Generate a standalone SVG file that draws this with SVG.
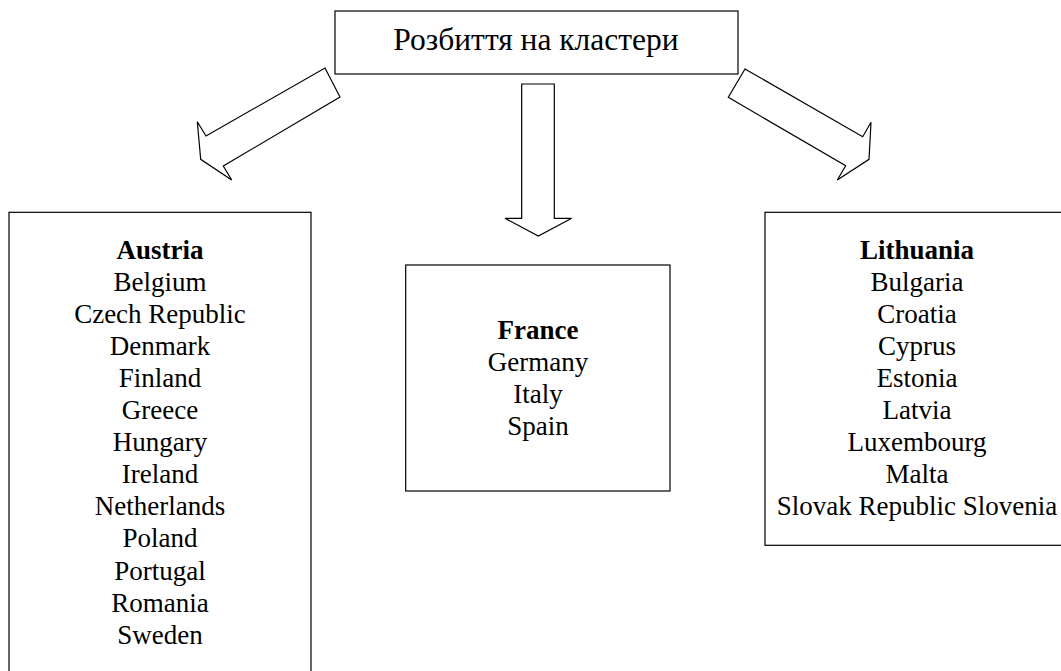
<svg xmlns="http://www.w3.org/2000/svg" width="1061" height="671" viewBox="0 0 1061 671">
  <style>
    .box { fill: #ffffff; stroke: #000000; stroke-width: 1.2; }
    .arrow { fill: #ffffff; stroke: #000000; stroke-width: 1.2; stroke-linejoin: miter; }
    text { font-family: "Liberation Serif", "Times New Roman", serif; font-size: 27px; fill: #000000; text-anchor: middle; }
    .title { font-size: 31.5px; }
    .head { font-weight: bold; }
  </style>
  <rect width="1061" height="671" fill="#ffffff"/>

  <!-- block arrows from the title to the three clusters -->
  <g id="connectors">
    <polygon class="arrow" points="325,68 340,97 223.3,166 231.7,180 200.7,159.3 197.3,121.7 206,136"/>
    <polygon class="arrow" points="521.7,84 554.3,84 554.3,218.3 571.7,218.3 538.3,236 505,218.3 521.7,218.3"/>
    <polygon class="arrow" points="745,69 862.7,136.7 871,122.3 869,159.3 837.3,180 845.7,165.7 728.3,97.3"/>
  </g>

  <g id="title">
    <rect class="box" x="335" y="11" width="403" height="63"/>
    <text class="title" x="536" y="50">Розбиття на кластери</text>
  </g>

  <g id="cluster-1">
    <rect class="box" x="9" y="212.3" width="302" height="470"/>
    <text class="head" x="160" y="258.5">Austria</text>
    <text x="160" y="290.6">Belgium</text>
    <text x="160" y="322.7">Czech Republic</text>
    <text x="160" y="354.8">Denmark</text>
    <text x="160" y="386.9">Finland</text>
    <text x="160" y="419">Greece</text>
    <text x="160" y="451.1">Hungary</text>
    <text x="160" y="483.2">Ireland</text>
    <text x="160" y="515.3">Netherlands</text>
    <text x="160" y="547.4">Poland</text>
    <text x="160" y="579.5">Portugal</text>
    <text x="160" y="611.6">Romania</text>
    <text x="160" y="643.7">Sweden</text>
  </g>

  <g id="cluster-2">
    <rect class="box" x="405.7" y="265" width="264.3" height="226"/>
    <text class="head" x="538" y="339">France</text>
    <text x="538" y="371">Germany</text>
    <text x="538" y="403">Italy</text>
    <text x="538" y="435">Spain</text>
  </g>

  <g id="cluster-3">
    <rect class="box" x="765" y="212.3" width="303" height="333"/>
    <text class="head" x="917" y="258.5">Lithuania</text>
    <text x="917" y="290.6">Bulgaria</text>
    <text x="917" y="322.7">Croatia</text>
    <text x="917" y="354.8">Cyprus</text>
    <text x="917" y="386.9">Estonia</text>
    <text x="917" y="419">Latvia</text>
    <text x="917" y="451.1">Luxembourg</text>
    <text x="917" y="483.2">Malta</text>
    <text x="917" y="515.3">Slovak Republic Slovenia</text>
  </g>
</svg>
